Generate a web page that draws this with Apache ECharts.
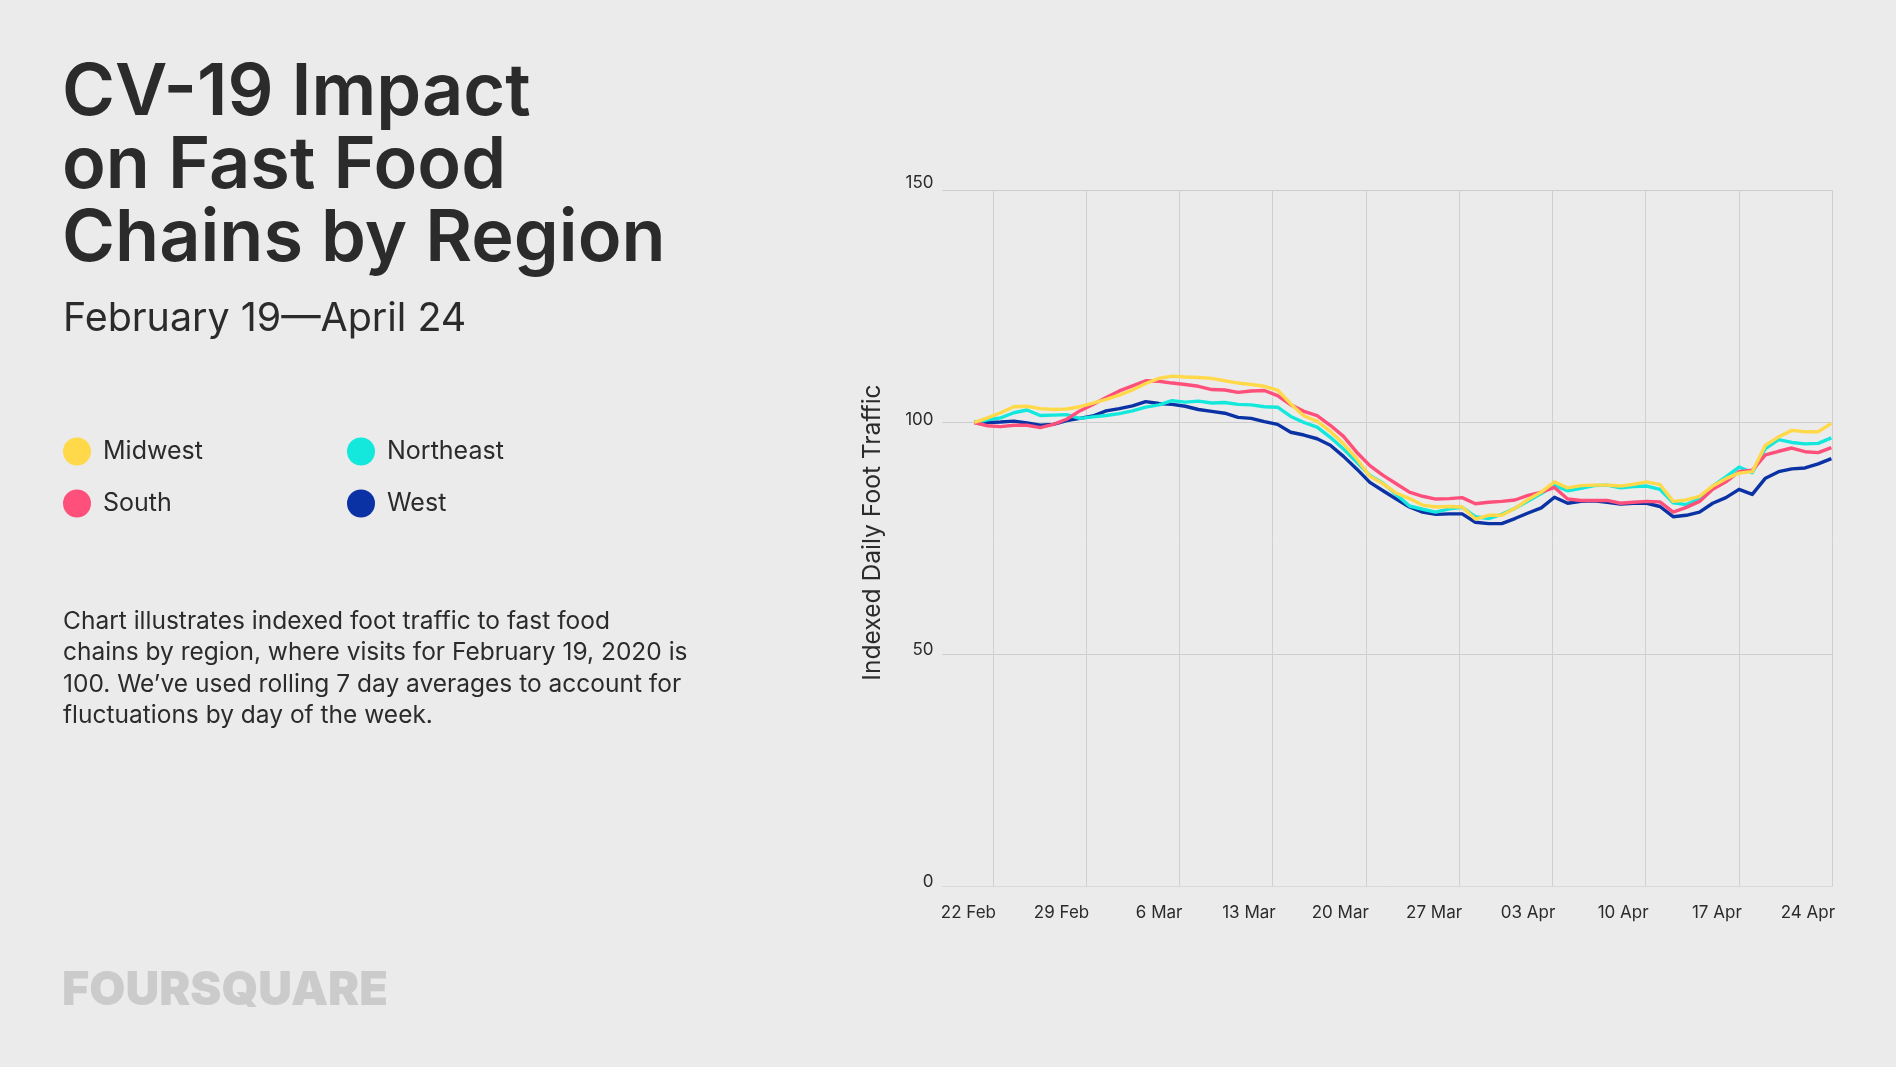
<!DOCTYPE html>
<html><head><meta charset="utf-8">
<style>html,body{margin:0;padding:0;background:#ebebeb}#c{width:1896px;height:1067px}</style>
<script src="https://cdn.jsdelivr.net/npm/echarts@6/dist/echarts.min.js"></script>
</head><body><div id="c"></div>
<script>
const midwest=[100,101,102.1,103.4,103.5,103,102.8,102.9,103.4,104.2,105,105.9,107,108.4,109.5,110,109.8,109.7,109.5,109,108.5,108.2,107.8,107,104,101.4,100.3,98.1,95.4,92.2,88.4,86.8,84.8,83.6,82.2,81.8,81.9,81.8,79.2,80,80,81.5,83.4,85,87.2,85.9,86.4,86.5,86.5,86.3,86.7,87.2,86.6,83,83.3,84.1,86.3,87.9,89.1,89.4,95.1,96.9,98.3,98,98,99.8];
const northeast=[100,100.6,101,102.1,102.7,101.5,101.6,101.7,100.9,101.2,101.5,101.9,102.5,103.3,103.8,104.7,104.4,104.6,104.2,104.3,103.9,103.8,103.4,103.3,101.3,100,99,96.8,94.3,91.5,88.6,86.9,84.5,82,81.3,80.7,81.4,81.7,79.7,79.3,80.2,81.5,83.1,84.7,86.4,85.3,85.8,86.4,86.5,85.9,86.2,86.3,85.6,82.7,82.3,83.6,86.3,88.3,90.4,89.2,94.4,96.3,95.7,95.4,95.5,96.7];
const south=[100,99.3,99.1,99.4,99.4,98.9,99.6,100.7,102.5,103.9,105.4,106.8,107.9,109,108.9,108.5,108.2,107.8,107.1,107,106.5,106.8,106.9,105.8,103.8,102.4,101.5,99.4,97,93.6,90.7,88.6,86.8,85,84.1,83.5,83.6,83.8,82.5,82.8,83,83.3,84.3,85,86,83.5,83.2,83.2,83.2,82.6,82.8,83,82.9,80.7,81.7,83,85.6,87.2,89.4,89.7,93,93.8,94.5,93.7,93.5,94.6];
const west=[100,100,100.1,100.3,99.9,99.4,99.6,100.4,100.9,101.4,102.5,103,103.6,104.5,104.1,103.9,103.5,102.8,102.4,102,101.1,100.9,100.2,99.6,97.9,97.3,96.5,95.1,92.7,90,87.1,85.3,83.5,81.8,80.7,80.2,80.3,80.3,78.5,78.2,78.2,79.3,80.5,81.6,83.9,82.6,83,83.1,82.8,82.4,82.6,82.6,81.9,79.7,80,80.7,82.6,83.8,85.6,84.5,88,89.4,90,90.2,91.1,92.2];
const tickLabels=['22 Feb','29 Feb','6 Mar','13 Mar','20 Mar','27 Mar','03 Apr','10 Apr','17 Apr','24 Apr'];
const titleLines=['CV-19 Impact','on Fast Food','Chains by Region'];
const subtitle='February 19\u2014April 24';
const bodyLines=['Chart illustrates indexed foot traffic to fast food','chains by region, where visits for February 19, 2020 is','100. We\u2019ve used rolling 7 day averages to account for','fluctuations by day of the week.'];
const yName='Indexed Daily Foot Traffic';
const logo='FOURSQUARE';

const FONT='Inter', INK='#2b2b2b';
const firstTick=1.42, tickStep=7.07;
const tickVals=tickLabels.map((_,k)=>firstTick+tickStep*k);
const pairs=a=>a.map((v,i)=>[i,v]);
const line=(name,data,color,z)=>({name,type:'line',data:pairs(data),showSymbol:false,symbol:'none',smooth:false,z,
  lineStyle:{color,width:3.4,join:'round'},itemStyle:{color}});
const legendBase={orient:'vertical',icon:'circle',itemWidth:28,itemHeight:28,itemGap:24,selectedMode:false,padding:0,
  textStyle:{fontFamily:FONT,fontSize:25,color:INK,padding:[4,0,0,7]}};
const labelLift={l0:5,l50:5,l100:3,l150:8};

const chart=echarts.init(document.getElementById('c'),null,{renderer:'canvas'});
chart.setOption({
  backgroundColor:'#ebebeb',animation:false,
  title:[{text:titleLines.join('\n'),left:62,top:57,padding:0,textStyle:{fontFamily:FONT,fontWeight:600,fontSize:72,lineHeight:73,color:INK}},
         {text:subtitle,left:63,top:300,padding:0,textStyle:{fontFamily:FONT,fontWeight:400,fontSize:39.4,color:INK}},
         {text:bodyLines.join('\n'),left:63,top:606,padding:0,textStyle:{fontFamily:FONT,fontWeight:400,fontSize:24.5,lineHeight:31.4,color:INK}},
         {text:logo,left:62,top:967,padding:0,textStyle:{fontFamily:FONT,fontWeight:900,fontSize:46.7,color:'#cbcbcb'}}],
  legend:[Object.assign({},legendBase,{data:['Midwest','South'],left:63,top:437.5}),
          Object.assign({},legendBase,{data:['Northeast','West'],left:347,top:437.5})],
  grid:{left:942.5,right:1896-1832.7,top:190.5,bottom:1067-886.5,containLabel:false},
  xAxis:{type:'value',min:-2.41,max:65.1,
    axisLine:{show:true,lineStyle:{color:'#d8d8d8',width:1}},
    axisTick:{show:false,customValues:tickVals},
    splitLine:{show:true,lineStyle:{color:'#d0d0d0',width:1}},
    axisLabel:{customValues:tickVals,align:'right',margin:18,fontFamily:FONT,fontSize:17,color:INK,showMinLabel:true,showMaxLabel:true,padding:[0,-3,0,0],
      formatter:v=>tickLabels[tickVals.findIndex(t=>Math.abs(t-v)<0.01)]}},
  yAxis:{type:'value',min:0,max:150,interval:50,name:yName,nameLocation:'middle',nameGap:57,
    nameTextStyle:{fontFamily:FONT,fontSize:24.6,color:INK,padding:[0,0,0,12]},
    axisLine:{show:false},axisTick:{show:false},
    splitLine:{show:true,lineStyle:{color:'#cccccc',width:1}},
    axisLabel:{margin:9,verticalAlign:'middle',fontFamily:FONT,fontSize:17,color:INK,
      formatter:v=>'{l'+v+'|'+v+'}',
      rich:Object.fromEntries(Object.entries(labelLift).map(([k,d])=>[k,{fontFamily:FONT,fontSize:17,color:INK,padding:[0,0,2*d,0]}]))}},
  series:[line('West',west,'#0a32a5',2),line('Northeast',northeast,'#14e8dc',3),line('South',south,'#ff4f7b',4),line('Midwest',midwest,'#ffd94a',5)]
});
</script></body></html>
